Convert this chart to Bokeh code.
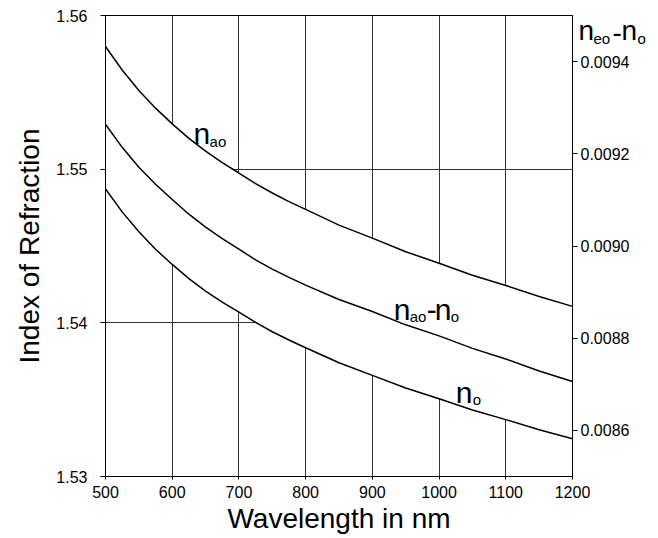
from bokeh.plotting import figure
from bokeh.models import (Range1d, LinearAxis, FixedTicker, PrintfTickFormatter,
                          Label, ColumnDataSource, Title)
from bokeh.embed import file_html
from bokeh.resources import INLINE

# ---- data ----
wavelength = [500, 525, 550, 575, 600, 625, 650, 675, 700, 725, 750, 775, 800,
              850, 900, 950, 1000, 1050, 1100, 1150, 1200]
n_ao = [1.55798, 1.55645, 1.55512, 1.55397, 1.55295, 1.55200, 1.55117, 1.55042,
        1.54975, 1.54906, 1.54845, 1.54789, 1.54738, 1.54636, 1.54551, 1.54463,
        1.54388, 1.54310, 1.54243, 1.54171, 1.54107]
n_o = [1.54872, 1.54722, 1.54593, 1.54479, 1.54380, 1.54288, 1.54207, 1.54135,
       1.54070, 1.54003, 1.53942, 1.53888, 1.53838, 1.53740, 1.53658, 1.53576,
       1.53506, 1.53433, 1.53370, 1.53304, 1.53246]
n_diff = [0.009264, 0.009214, 0.009171, 0.009134, 0.009101, 0.009069, 0.009041,
          0.009016, 0.008993, 0.008970, 0.008950, 0.008932, 0.008915, 0.008884,
          0.008858, 0.008829, 0.008805, 0.008778, 0.008755, 0.008729, 0.008706]

x_ticks = [500, 600, 700, 800, 900, 1000, 1100, 1200]
y_ticks = [1.53, 1.54, 1.55, 1.56]
y2_ticks = [0.0086, 0.0088, 0.0090, 0.0092, 0.0094]

FONT = "Liberation Sans"

src = ColumnDataSource(dict(x=wavelength, ao=n_ao, o=n_o, d=n_diff))

p = figure(width=658, height=538, output_backend="svg", toolbar_location=None,
           x_range=Range1d(500, 1200), y_range=Range1d(1.53, 1.56),
           min_border_left=105, min_border_right=86, min_border_top=15,
           min_border_bottom=62)
p.extra_y_ranges = {"d": Range1d(0.0085, 0.0095)}

p.outline_line_color = "black"
p.outline_line_width = 1
p.background_fill_color = "white"
p.border_fill_color = "white"

p.xaxis.ticker = FixedTicker(ticks=x_ticks)
p.yaxis.ticker = FixedTicker(ticks=y_ticks)
p.yaxis.formatter = PrintfTickFormatter(format="%.2f")
p.xaxis.axis_label = "Wavelength in nm"
p.yaxis.axis_label = "Index of Refraction"

right = LinearAxis(y_range_name="d", ticker=FixedTicker(ticks=y2_ticks),
                   formatter=PrintfTickFormatter(format="%.4f"))
p.add_layout(right, "right")

for ax in [p.xaxis[0], p.yaxis[0], right]:
    ax.axis_line_color = "black"
    ax.major_tick_line_color = "black"
    ax.minor_tick_line_color = None
    ax.major_tick_in = 0
    ax.major_tick_out = 5
    ax.major_label_text_font = FONT
    ax.major_label_text_font_size = "16px"
    ax.major_label_text_color = "black"
    ax.axis_label_text_font = FONT
    ax.axis_label_text_font_size = "28px"
    ax.axis_label_text_font_style = "normal"
    ax.axis_label_text_color = "black"

p.xaxis.major_tick_out = 3
p.xaxis.major_label_standoff = 6
p.xaxis.axis_label_standoff = 2
p.yaxis.major_label_standoff = 13
p.yaxis.axis_label_standoff = 8
right.major_label_standoff = 3

p.xgrid.grid_line_color = "#333333"
p.ygrid.grid_line_color = "#333333"
p.xgrid.grid_line_width = 1
p.ygrid.grid_line_width = 1

# white band between the curves hides the grid
p.varea(x="x", y1="o", y2="ao", source=src, fill_color="white")

p.line(x="x", y="ao", source=src, line_color="black", line_width=1.5)
p.line(x="x", y="o", source=src, line_color="black", line_width=1.5)
p.line(x="x", y="d", source=src, line_color="black", line_width=1.5,
       y_range_name="d")

def lab(x, y, text, size):
    p.add_layout(Label(x=x, y=y, text=text, text_font=FONT, text_font_size=size,
                       text_color="black", text_baseline="alphabetic",
                       text_align="left"))

BIG = "30px"
SMALL = "15px"
# n_ao
lab(632, 1.55230, "n", BIG)
lab(656, 1.55180, "ao", SMALL)
# n_ao - n_o
lab(932, 1.54085, "n", BIG)
lab(956, 1.54040, "ao", SMALL)
lab(981.5, 1.54085, "-", BIG)
lab(993.5, 1.54085, "n", BIG)
lab(1017.5, 1.54040, "o", SMALL)
# n_o
lab(1025, 1.53545, "n", BIG)
lab(1050.5, 1.53500, "o", SMALL)

# right-axis title n_eo - n_o, drawn as titles in the top border so that it is
# not clipped by the frame and does not take layout space
def top_text(text, left_px, standoff, size):
    p.add_layout(Title(text=text, align="left", offset=left_px - 105,
                       standoff=standoff, vertical_align="bottom",
                       text_font=FONT, text_font_size=size,
                       text_font_style="normal", text_color="black"), "above")

top_text("n", 578, -60, "28px")
top_text("eo", 593, -62, SMALL)
top_text("-", 612, -52, "28px")
top_text("n", 621, -60, "28px")
top_text("o", 637, -62, SMALL)

open("out.html", "w").write(file_html(p, INLINE))
